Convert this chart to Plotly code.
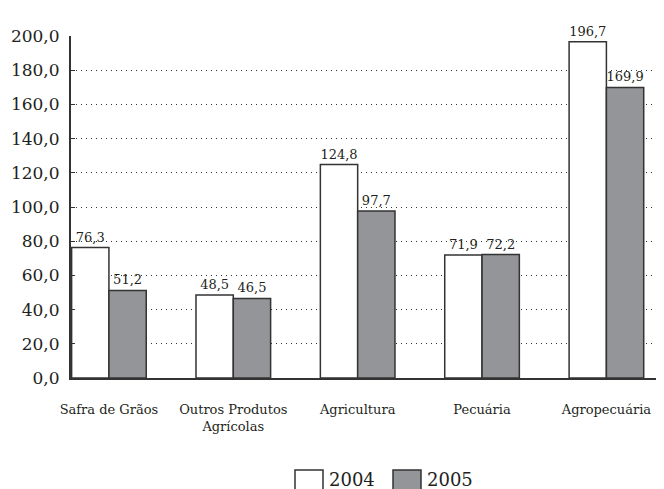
import plotly.graph_objects as go

categories = ["Safra de Grãos", "Outros Produtos<br>Agrícolas", "Agricultura", "Pecuária", "Agropecuária"]
series_names = ["2004", "2005"]
values_2004 = [76.3, 48.5, 124.8, 71.9, 196.7]
values_2005 = [51.2, 46.5, 97.7, 72.2, 169.9]
y_ticks = [0, 20, 40, 60, 80, 100, 120, 140, 160, 180, 200]

W, H = 664, 489
ML, MR, MT, MB = 63, 9, 28, 119
PW, PH = W - ML - MR, H - MT - MB

def px(x):
    return (x - ML) / PW

def py(y):
    return (H - MB - y) / PH

FONT = "DejaVu Serif, serif"
INK = "#231f20"
GRAY = "#939598"

xs = list(range(len(categories)))
fmt = lambda v: f"{v:.1f}".replace(".", ",")

fig = go.Figure()
for name, vals, color in [(series_names[0], values_2004, "white"), (series_names[1], values_2005, GRAY)]:
    fig.add_trace(go.Bar(
        x=xs, y=vals, name=name,
        marker=dict(color=color, line=dict(color="#333333", width=1.5)),
        text=[fmt(v) for v in vals], textposition="outside",
        textfont=dict(family=FONT, size=13, color=INK),
        constraintext="none", cliponaxis=False, showlegend=False,
    ))

fig.update_layout(
    width=W, height=H, margin=dict(l=ML, r=MR, t=MT, b=MB, autoexpand=False),
    paper_bgcolor="white", plot_bgcolor="white",
    barmode="group", bargap=0.4, bargroupgap=0,
    separators=",.",
    font=dict(family=FONT, color=INK),
    xaxis=dict(range=[-0.305, 4.455], tickvals=xs, ticktext=categories, automargin=False,
               showgrid=False, zeroline=False, showline=True, linecolor="#333333", linewidth=2,
               ticks="", tickfont=dict(family=FONT, size=13, color=INK), ticklabelstandoff=18),
    yaxis=dict(range=[0, 200], tickvals=y_ticks, tickformat=".1f", automargin=False,
               showgrid=True, gridcolor="#333333", griddash="1px,4px", gridwidth=1.2,
               zeroline=False, showline=True, linecolor="#333333", linewidth=2,
               ticks="inside", ticklen=4, tickcolor="#333333",
               tickfont=dict(family=FONT, size=17, color=INK), ticklabelstandoff=6),
)

# custom legend
legend_items = [(287, "white"), (385, GRAY)]
for (x0, col), name in zip(legend_items, series_names):
    fig.add_shape(type="rect", xref="paper", yref="paper",
                  x0=px(x0), x1=px(x0 + 28), y0=py(462), y1=py(495),
                  fillcolor=col, line=dict(color="#333333", width=1.5))
    fig.add_annotation(xref="paper", yref="paper", x=px(x0 + 32), y=py(471),
                       text=name, showarrow=False, xanchor="left", yanchor="middle",
                       font=dict(family=FONT, size=18, color=INK))

fig.write_html("out.html")
